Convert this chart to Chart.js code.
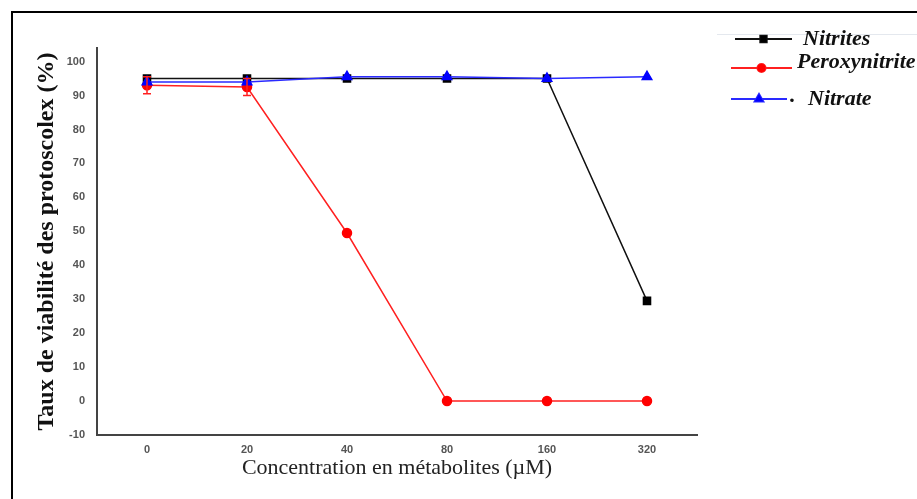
<!DOCTYPE html>
<html>
<head>
<meta charset="utf-8">
<script src="https://cdn.jsdelivr.net/npm/chart.js@4/dist/chart.umd.min.js"></script>
<style>
  html, body { margin: 0; padding: 0; background: #fff; }
  #wrap { position: relative; width: 917px; height: 499px; }
  #frame { position: absolute; left: 11px; top: 11px; width: 1000px; height: 600px; border: 2px solid #000; box-sizing: border-box; }
  canvas { position: absolute; left: 0; top: 0; }
</style>
</head>
<body>
<div id="wrap">
  <div id="frame"></div>
  <canvas id="chart" width="917" height="499"></canvas>
</div>
<script>
// Données
const concentrations = ['0', '20', '40', '80', '160', '320'];
const nitrites = [95, 95, 95, 95, 95, 29.5];
const peroxynitrite = [93, 92.5, 49.5, 0, 0, 0];
const peroxynitriteErr = [2.5, 2.5, 0, 0, 0, 0];
const nitrate = [94, 94, 95.5, 95.5, 95, 95.5];
const yTicks = [-10, 0, 10, 20, 30, 40, 50, 60, 70, 80, 90, 100];

// Barres d'erreur simples
const errorBars = {
  id: 'errorBars',
  afterDatasetsDraw(chart) {
    const ctx = chart.ctx;
    const y = chart.scales.y;
    chart.data.datasets.forEach((ds, i) => {
      if (!ds.errors) return;
      const meta = chart.getDatasetMeta(i);
      meta.data.forEach((pt, j) => {
        const e = ds.errors[j];
        if (!e) return;
        const v = ds.data[j];
        const top = y.getPixelForValue(v + e);
        const bot = y.getPixelForValue(v - e);
        ctx.save();
        ctx.strokeStyle = ds.borderColor;
        ctx.lineWidth = 1.5;
        ctx.beginPath();
        ctx.moveTo(pt.x, top); ctx.lineTo(pt.x, bot);
        ctx.moveTo(pt.x - 4, top); ctx.lineTo(pt.x + 4, top);
        ctx.moveTo(pt.x - 4, bot); ctx.lineTo(pt.x + 4, bot);
        ctx.stroke();
        ctx.restore();
      });
    });
  }
};

// Légende dessinée à la main (ligne + marqueur)
const customLegend = {
  id: 'customLegend',
  afterDraw(chart) {
    const ctx = chart.ctx;
    const rows = [
      { idx: 0, x1: 735, x2: 792, y: 39, tx: 803, ty: 39 },
      { idx: 1, x1: 731, x2: 792, y: 68, tx: 797, ty: 62 },
      { idx: 2, x1: 731, x2: 787, y: 99, tx: 808, ty: 99 }
    ];
    ctx.save();
    ctx.strokeStyle = '#e4e8ee';
    ctx.lineWidth = 1;
    ctx.beginPath();
    ctx.moveTo(717, 34.5); ctx.lineTo(917, 34.5);
    ctx.stroke();
    rows.forEach(r => {
      const ds = chart.data.datasets[r.idx];
      ctx.strokeStyle = ds.borderColor;
      ctx.lineWidth = 2;
      ctx.beginPath();
      ctx.moveTo(r.x1, r.y); ctx.lineTo(r.x2, r.y);
      ctx.stroke();
      Chart.helpers.drawPoint(ctx, {
        pointStyle: ds.pointStyle, radius: ds.pointRadius - 0.5, borderWidth: 1
      }, (r.x1 + r.x2) / 2, r.y);
      ctx.fillStyle = ds.pointBackgroundColor;
      ctx.strokeStyle = ds.pointBorderColor;
      ctx.fill();
      ctx.fillStyle = '#111';
      ctx.font = 'italic bold 22px "Liberation Serif", "DejaVu Serif", serif';
      ctx.textBaseline = 'middle';
      if (r.idx === 2) {
        ctx.fillText('.', 790, r.y - 3);
      }
      ctx.fillText(ds.label, r.tx, r.ty);
    });
    ctx.restore();
  }
};

const chart = new Chart(document.getElementById('chart'), {
  type: 'line',
  data: {
    labels: concentrations,
    datasets: [
      {
        label: 'Nitrites',
        data: nitrites,
        borderColor: '#111111',
        backgroundColor: '#000000',
        pointBackgroundColor: '#000000',
        pointBorderColor: '#000000',
        pointStyle: 'rect',
        pointRadius: 5,
        borderWidth: 1.5,
        order: 2
      },
      {
        label: 'Peroxynitrite',
        data: peroxynitrite,
        errors: peroxynitriteErr,
        borderColor: '#ff2020',
        backgroundColor: '#ff0000',
        pointBackgroundColor: '#ff0000',
        pointBorderColor: '#ff0000',
        pointStyle: 'circle',
        pointRadius: 4.5,
        borderWidth: 1.5,
        order: 1
      },
      {
        label: 'Nitrate',
        data: nitrate,
        borderColor: '#2a2aff',
        backgroundColor: '#0000ff',
        pointBackgroundColor: '#0000ff',
        pointBorderColor: '#0000ff',
        pointStyle: 'triangle',
        pointRadius: 5.5,
        borderWidth: 1.5,
        order: 0
      }
    ]
  },
  options: {
    responsive: false,
    animation: false,
    layout: { padding: { left: 0, right: 220, top: 48, bottom: 0 } },
    plugins: {
      legend: { display: false },
      tooltip: { enabled: false }
    },
    elements: { line: { tension: 0 } },
    scales: {
      x: {
        offset: true,
        grid: { display: false },
        border: { display: true, color: '#444', width: 2 },
        ticks: {
          color: '#555',
          font: { family: '"Liberation Sans", Arial, sans-serif', size: 11, weight: 'bold' },
          padding: 0
        },
        title: {
          display: true,
          text: 'Concentration en métabolites (µM)',
          color: '#222',
          font: { family: '"Liberation Serif", "Times New Roman", serif', size: 22 },
          padding: { top: 0, bottom: 18 }
        },
        afterFit(scale) { scale.height = 64; }
      },
      y: {
        min: -10,
        max: 104,
        grid: { display: false },
        border: { display: true, color: '#444', width: 2 },
        afterBuildTicks(scale) {
          scale.ticks = yTicks.map(v => ({ value: v }));
        },
        ticks: {
          color: '#555',
          font: { family: '"Liberation Sans", Arial, sans-serif', size: 11, weight: 'bold' },
          padding: 4
        },
        title: {
          display: true,
          text: 'Taux de viabilité des protoscolex (%)',
          color: '#111',
          font: { family: '"Liberation Serif", "Times New Roman", serif', size: 24, weight: 'bold' },
          padding: { top: 32, bottom: 0 }
        },
        afterFit(scale) { scale.width = 97; }
      }
    }
  },
  plugins: [errorBars, customLegend]
});
</script>
</body>
</html>
